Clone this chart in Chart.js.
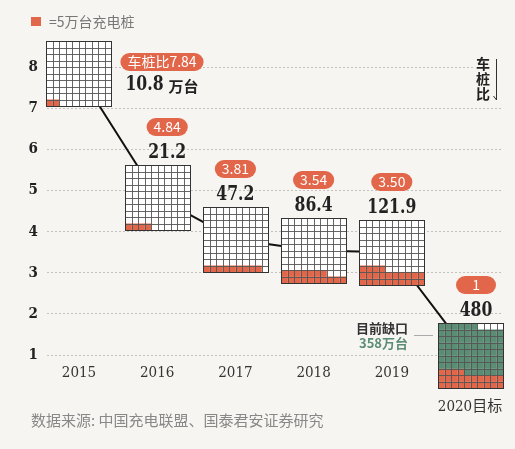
<!DOCTYPE html>
<html>
<head>
<meta charset="utf-8">
<script src="https://cdn.jsdelivr.net/npm/chart.js@4.4.1/dist/chart.umd.min.js"></script>
<style>
  html, body { margin: 0; padding: 0; background: #f7f5f1; }
  canvas { display: block; }
</style>
</head>
<body>
<canvas id="chart" width="515" height="449"></canvas>
<script>
// 数据
const years = ['2015', '2016', '2017', '2018', '2019', '2020目标'];
const ratio = [7.84, 4.84, 3.81, 3.54, 3.50, 1];          // 车桩比
const piles = [10.8, 21.2, 47.2, 86.4, 121.9, 480];       // 万台
const ratioText = ['车桩比7.84', '4.84', '3.81', '3.54', '3.50', '1'];
const gap2020 = 358;                                      // 目前缺口 万台
const current2020 = 121.9;                                // 2020 年已建成部分
const yTicks = [1, 2, 3, 4, 5, 6, 7, 8];
const unit = 5;                                           // 每格 = 5万台

const ORANGE = '#e2674a';
const GREEN = '#5b8d74';
const BG = '#f7f5f1';
const SLAB = "'DejaVu Serif Condensed', 'DejaVu Serif', 'Noto Sans CJK SC', serif";
const CJK = "'Noto Sans CJK SC', sans-serif";

function pill(ctx, cx, cy, w, h) {
  const r = h / 2, x = cx - w / 2, y = cy - h / 2;
  ctx.beginPath();
  ctx.moveTo(x + r, y);
  ctx.lineTo(x + w - r, y);
  ctx.arc(x + w - r, y + r, r, -Math.PI / 2, Math.PI / 2);
  ctx.lineTo(x + r, y + h);
  ctx.arc(x + r, y + r, r, Math.PI / 2, Math.PI * 1.5);
  ctx.closePath();
  ctx.fillStyle = ORANGE;
  ctx.fill();
}

// 数字用稍窄的字形（横向压缩）
function narrowText(ctx, txt, x, y, align) {
  ctx.save();
  ctx.translate(x, y);
  ctx.scale(0.87, 1);
  ctx.textAlign = align;
  ctx.fillText(txt, 0, 0);
  ctx.restore();
}

// 方格图 + 标签
const waffle = {
  id: 'waffle',
  beforeDraw(chart) {
    const ctx = chart.ctx;
    ctx.save();
    ctx.fillStyle = BG;
    ctx.fillRect(0, 0, chart.width, chart.height);
    ctx.restore();
  },
  afterDatasetsDraw(chart) {
    const ctx = chart.ctx;
    const meta = chart.getDatasetMeta(0);
    const size = 65, cell = size / 10;
    ctx.save();
    meta.data.forEach((pt, i) => {
      const left = Math.round(pt.x - size / 2);
      const top = Math.round(pt.y - size / 2);
      let nOrange, nGreen = 0;
      if (i === years.length - 1) {
        nOrange = Math.round(current2020 / unit);
        nGreen = Math.round(gap2020 / unit);
      } else {
        nOrange = Math.round(piles[i] / unit);
      }
      ctx.fillStyle = '#ffffff';
      ctx.fillRect(left, top, size, size);
      for (let k = 0; k < nOrange + nGreen && k < 100; k++) {
        const row = Math.floor(k / 10), col = k % 10;
        ctx.fillStyle = k < nOrange ? ORANGE : GREEN;
        ctx.fillRect(left + col * cell, top + (9 - row) * cell, cell + 0.3, cell + 0.3);
      }
      ctx.strokeStyle = '#555';
      ctx.lineWidth = 0.9;
      ctx.beginPath();
      for (let j = 1; j < 10; j++) {
        const gx = Math.round(left + j * cell) + 0.5;
        ctx.moveTo(gx, top); ctx.lineTo(gx, top + size);
        const gy = Math.round(top + j * cell) + 0.5;
        ctx.moveTo(left, gy); ctx.lineTo(left + size, gy);
      }
      ctx.stroke();
      ctx.strokeStyle = '#333';
      ctx.lineWidth = 1;
      ctx.strokeRect(left + 0.5, top + 0.5, size, size);

      // 标签
      ctx.textAlign = 'center';
      ctx.textBaseline = 'middle';
      if (i === 0) {
        const cx = left + size + 51;
        ctx.font = '14px ' + CJK;
        const w = ctx.measureText(ratioText[i]).width + 14;
        pill(ctx, cx, top + 21, w, 18);
        ctx.fillStyle = '#fff';
        ctx.fillText(ratioText[i], cx, top + 21);
        ctx.font = 'bold 20px ' + SLAB;
        const num = String(piles[i]);
        const nw = ctx.measureText(num).width * 0.87;
        ctx.font = 'bold 15px ' + CJK;
        const uw = ctx.measureText('万台').width;
        const sx = cx - (nw + 5 + uw) / 2;
        ctx.fillStyle = '#222';
        ctx.font = 'bold 20px ' + SLAB;
        narrowText(ctx, num, sx, top + 44, 'left');
        ctx.font = 'bold 15px ' + CJK;
        ctx.textAlign = 'left';
        ctx.fillText('万台', sx + nw + 5, top + 45);
      } else {
        const shift = i === 1 ? 10 : (i === 5 ? 6 : 0);
        const cx = pt.x + shift;
        ctx.font = '14px ' + CJK;
        const w = Math.max(40, ctx.measureText(ratioText[i]).width + 14);
        pill(ctx, cx, top - 38, w, 18);
        ctx.fillStyle = '#fff';
        ctx.fillText(ratioText[i], cx, top - 38);
        ctx.fillStyle = '#222';
        ctx.font = 'bold 20px ' + SLAB;
        narrowText(ctx, String(piles[i]), cx, top - 12, 'center');
      }
      if (i === years.length - 1) {
        ctx.textAlign = 'right';
        ctx.font = 'bold 13px ' + CJK;
        ctx.fillStyle = '#333';
        ctx.fillText('目前缺口', left - 30, pt.y - 27);
        ctx.fillStyle = GREEN;
        ctx.fillText(gap2020 + '万台', left - 30, pt.y - 12);
        ctx.strokeStyle = '#aaa';
        ctx.lineWidth = 1;
        ctx.beginPath();
        ctx.moveTo(left - 24, pt.y - 19.5);
        ctx.lineTo(left - 5, pt.y - 19.5);
        ctx.stroke();
      }
    });

    // 图例
    ctx.fillStyle = ORANGE;
    ctx.fillRect(31, 17, 10, 9);
    ctx.textAlign = 'left';
    ctx.textBaseline = 'middle';
    ctx.font = '14px ' + CJK;
    ctx.fillStyle = '#777';
    ctx.fillText('=' + unit + '万台充电桩', 49, 22);

    // 来源
    ctx.font = '15px ' + CJK;
    ctx.fillStyle = '#888';
    ctx.fillText('数据来源: 中国充电联盟、国泰君安证券研究', 31, 420);

    // 右侧 “车桩比” 标注
    ctx.fillStyle = BG;
    ctx.fillRect(474, 55, 32, 47);
    ctx.fillStyle = '#222';
    ctx.textAlign = 'center';
    ctx.font = 'bold 14px ' + CJK;
    ['车', '桩', '比'].forEach((ch, k) => ctx.fillText(ch, 483, 64 + k * 15));
    ctx.strokeStyle = '#333';
    ctx.lineWidth = 1;
    ctx.beginPath();
    ctx.moveTo(496.5, 59);
    ctx.lineTo(496.5, 100);
    ctx.lineTo(493.5, 96);
    ctx.stroke();
    ctx.restore();
  }
};

new Chart(document.getElementById('chart'), {
  type: 'line',
  data: {
    datasets: [{
      data: ratio.map((r, i) => ({ x: i, y: r })),
      borderColor: '#111',
      borderWidth: 2,
      pointRadius: 0,
      tension: 0
    }]
  },
  options: {
    responsive: false,
    animation: false,
    layout: { padding: { top: 42, left: 27, right: 13, bottom: 36 } },
    plugins: {
      legend: { display: false },
      tooltip: { enabled: false }
    },
    scales: {
      x: {
        type: 'linear',
        min: -0.409,
        max: 5.409,
        afterBuildTicks: (scale) => { scale.ticks = years.map((_, i) => ({ value: i })); },
        afterFit: (scale) => { scale.height = 50; },
        grid: { display: false, drawTicks: false },
        border: { display: false },
        ticks: {
          padding: 2,
          color: '#333',
          font: { family: SLAB, size: 15, lineHeight: 1.13 },
          maxRotation: 0,
          autoSkip: false,
          callback: (v) => {
            const i = Math.round(v);
            return i === years.length - 1 ? ['', '', years[i]] : years[i];
          }
        }
      },
      y: {
        min: 0.806,
        max: 8.61,
        afterBuildTicks: (scale) => { scale.ticks = yTicks.map(v => ({ value: v })); },
        afterFit: (scale) => { scale.width = 20; },
        grid: { color: '#c4c2be', lineWidth: 1, drawTicks: false },
        border: { display: false, dash: [2, 2] },
        ticks: {
          padding: 9,
          color: '#222',
          font: { family: SLAB, size: 15, weight: 'bold' }
        }
      }
    }
  },
  plugins: [waffle]
});
</script>
</body>
</html>
